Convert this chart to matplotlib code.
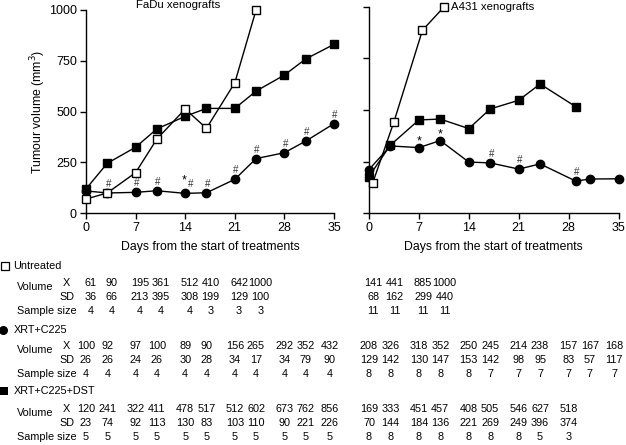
import matplotlib
matplotlib.use("Agg")
import matplotlib.pyplot as plt
import matplotlib.transforms as mtransforms

plt.rcParams['font.family'] = ['Liberation Sans', 'DejaVu Sans']

W, H = 626, 445

# ---- plotted data ----
fadu_days = [0, 3, 7, 10, 14, 17, 21, 24, 28, 31, 35]
fadu_untreated_days = [0, 3, 7, 10, 14, 17, 21, 24]
fadu_untreated = [70, 100, 200, 365, 513, 418, 642, 1000]
fadu_c225 = [110, 100, 103, 111, 98, 101, 167, 269, 298, 355, 441]
fadu_dst = [120, 246, 325, 415, 477, 516, 516, 601, 680, 759, 831]

a431_untreated_days = [0.5, 3.5, 7.5, 10.5]
a431_untreated = [145, 443, 886, 998]
a431_c225_days = [0, 3, 7, 10, 14, 17, 21, 24, 29, 31, 35]
a431_c225 = [212, 326, 318, 352, 248, 244, 214, 239, 156, 166, 167]
a431_dst_days = [0, 3, 7, 10, 14, 17, 21, 24, 29]
a431_dst = [178, 330, 452, 456, 410, 505, 547, 626, 516]

# significance marks: (day, symbol)
fadu_marks = [(3, '#'), (7, '#'), (10, '#'), (14, '#'), (17, '#'), (21, '#'),
              (24, '#'), (28, '#'), (31, '#'), (35, '#')]
a431_marks = [(7, '*'), (10, '*'), (17, '#'), (21, '#'), (29, '#')]

# ---- table values ----
tab_days = [0, 3, 7, 10, 14, 17, 21, 24, 28, 31, 34.4]
fadu_tab = {
    'Untreated': (['61', '90', '195', '361', '512', '410', '642', '1000'],
                  ['36', '66', '213', '395', '308', '199', '129', '100'],
                  ['4', '4', '4', '4', '4', '3', '3', '3']),
    'XRT+C225': (['100', '92', '97', '100', '89', '90', '156', '265', '292', '352', '432'],
                 ['26', '26', '24', '26', '30', '28', '34', '17', '34', '79', '90'],
                 ['4'] * 11),
    'XRT+C225+DST': (['120', '241', '322', '411', '478', '517', '512', '602', '673', '762', '856'],
                     ['23', '74', '92', '113', '130', '83', '103', '110', '90', '221', '226'],
                     ['5'] * 11),
}
a431_tab = {
    'Untreated': (['141', '441', '885', '1000'],
                  ['68', '162', '299', '440'],
                  ['11', '11', '11', '11']),
    'XRT+C225': (['208', '326', '318', '352', '250', '245', '214', '238', '157', '167', '168'],
                 ['129', '142', '130', '147', '153', '142', '98', '95', '83', '57', '117'],
                 ['8', '8', '8', '8', '8', '7', '7', '7', '7', '7', '7']),
    'XRT+C225+DST': (['169', '333', '451', '457', '408', '505', '546', '627', '518'],
                     ['70', '144', '184', '136', '221', '269', '249', '396', '374'],
                     ['8', '8', '8', '8', '8', '8', '8', '5', '3']),
}


def fx(px):
    return px / W


def fy(py):
    return 1 - py / H


fig = plt.figure(figsize=(W / 100, H / 100), dpi=100)
ax1 = fig.add_axes([fx(86), fy(213.3), fx(334) - fx(86), fy(10) - fy(213.3)])
ax2 = fig.add_axes([fx(369), fy(213.3), fx(618.5) - fx(369), fy(6.7) - fy(213.3)])


def draw_panel(ax, c_days, c_vals, d_days, d_vals, u_days, u_vals):
    ax.plot(c_days, c_vals, marker='o', color='black', lw=1.0, markersize=6,
            clip_on=False, zorder=3)
    ax.plot(d_days, d_vals, marker='s', markersize=5.8, color='black', lw=1.0,
            clip_on=False, zorder=3)
    ax.plot(u_days, u_vals, marker='s', markerfacecolor='white',
            markeredgecolor='black', markeredgewidth=1.0, markersize=6.3,
            color='black', lw=1.0, clip_on=False, zorder=4)
    ax.set_xlim(0, 35)
    ax.set_ylim(0, 1000)
    ax.set_xticks([0, 7, 14, 21, 28, 35])
    ax.set_yticks([0, 250, 500, 750, 1000])
    for s in ('top', 'right'):
        ax.spines[s].set_visible(False)
    for s in ('left', 'bottom'):
        ax.spines[s].set_linewidth(1.0)
    ax.tick_params(direction='out', length=4, width=1.0, labelsize=9, pad=2.5)
    ax.set_xlabel('Days from the start of treatments', fontsize=8.8, labelpad=5)


draw_panel(ax1, fadu_days, fadu_c225, fadu_days, fadu_dst,
           fadu_untreated_days, fadu_untreated)
draw_panel(ax2, a431_c225_days, a431_c225, a431_dst_days, a431_dst,
           a431_untreated_days, a431_untreated)
ax2.tick_params(axis='y', labelleft=False)
ax1.set_ylabel('Tumour volume (mm$^3$)', fontsize=8.8, labelpad=1)

ax1.text(0.37, 1.025, 'FaDu xenografts', transform=ax1.transAxes, fontsize=8.2,
         ha='center', va='center')
ax2.text(0.497, 1.0, 'A431 xenografts', transform=ax2.transAxes, fontsize=8.2,
         ha='center', va='center')

# significance marks above the XRT+C225 points
for ax, marks, days, vals in ((ax1, fadu_marks, fadu_days, fadu_c225),
                              (ax2, a431_marks, a431_c225_days, a431_c225)):
    for day, sym in marks:
        v = vals[days.index(day)]
        if sym == '#':
            dx = 5 if (ax is ax1 and day == 14) else 1
            ax.annotate('#', (day, v), xytext=(dx, 6), textcoords='offset pixels',
                        ha='center', va='baseline', fontsize=7, color='#333333')
        else:
            ax.annotate('*', (day, v), xytext=(0, 3), textcoords='offset pixels',
                        ha='center', va='baseline', fontsize=9)
ax1.annotate('*', (14, fadu_c225[4]), xytext=(-1, 10), textcoords='offset pixels',
             ha='center', va='baseline', fontsize=9)

# ---- table below the charts ----
fs = 7.8
groups = [('Untreated', 266, 283.5, 297.5, 310.5),
          ('XRT+C225', 330, 346, 360, 374),
          ('XRT+C225+DST', 391, 409, 422.5, 437.5)]
header_marker = {'Untreated': dict(marker='s', mfc='white', mec='black', ms=5.5, mew=0.9, x=5),
                 'XRT+C225': dict(marker='o', mfc='black', mec='black', ms=6.5, mew=0, x=2.5),
                 'XRT+C225+DST': dict(marker='s', mfc='black', mec='black', ms=6, mew=0, x=3.7)}

for name, yh, yx, ysd, yn in groups:
    m = header_marker[name]
    fig.lines.append(plt.Line2D([fx(m['x'])], [fy(yh)], transform=fig.transFigure,
                                marker=m['marker'], mfc=m['mfc'], mec=m['mec'],
                                ms=m['ms'], mew=m['mew'], ls='none'))
    fig.text(fx(13.5), fy(yh), name, fontsize=fs, va='center', ha='left')
    fig.text(fx(17), fy((yx + ysd) / 2 - 3), 'Volume', fontsize=fs, va='center', ha='left')
    fig.text(fx(70), fy(yx), 'X', fontsize=fs, va='center', ha='right')
    fig.text(fx(74), fy(ysd), 'SD', fontsize=fs, va='center', ha='right')
    fig.text(fx(17), fy(yn), 'Sample size', fontsize=fs, va='center', ha='left')

    for ax, tab in ((ax1, fadu_tab), (ax2, a431_tab)):
        trans = mtransforms.blended_transform_factory(ax.transData, fig.transFigure)
        shift = 0.6 if name == 'Untreated' else 0.0
        rows = tab[name]
        for vals, y in zip(rows, (yx, ysd, yn)):
            for day, val in zip(tab_days, vals):
                fig.text(day + shift, fy(y), val, transform=trans, fontsize=fs,
                         ha='center', va='center')

fig.savefig('out.png', dpi=100)
